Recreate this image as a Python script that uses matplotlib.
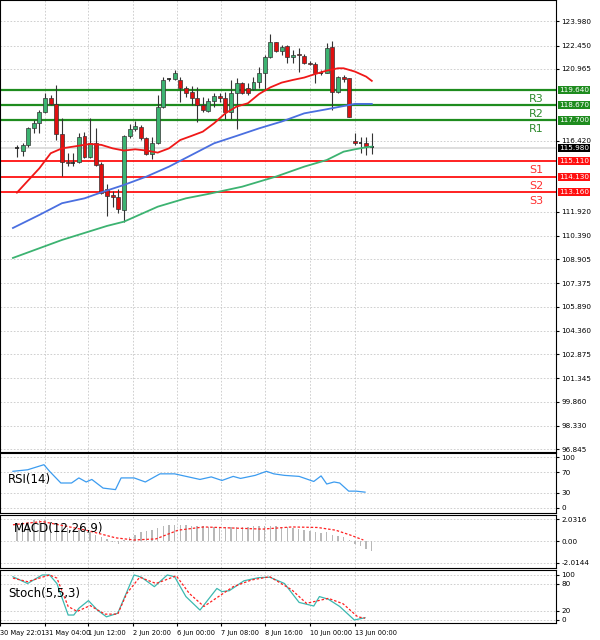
import matplotlib
matplotlib.use("Agg")
import matplotlib.pyplot as plt
import matplotlib.transforms as mtrans

# candles (index 0..63)
opens  = [115.93,115.79,116.15,117.20,117.56,118.26,119.11,118.75,116.84,115.09,115.03,115.09,116.72,115.41,116.25,114.94,
          113.33,112.97,112.83,112.02,116.72,117.14,117.31,116.57,115.58,116.25,118.54,120.31,120.31,120.27,119.74,119.53,
          119.11,118.68,118.32,118.96,119.25,119.11,118.26,119.42,120.10,119.74,119.68,120.16,120.69,121.75,122.70,122.13,
          122.43,121.71,121.92,121.79,121.37,121.28,120.73,120.73,122.34,119.53,120.44,120.37,116.42,116.30,116.30,116.04]
closes = [115.93,116.15,117.20,117.56,118.26,119.11,118.75,116.84,115.09,114.98,115.03,116.67,115.41,116.25,114.88,113.08,
          112.91,112.83,112.06,116.72,117.14,117.35,116.57,115.58,116.25,118.54,120.27,120.31,120.69,119.74,119.47,119.11,
          118.68,118.37,118.96,119.25,119.11,118.26,119.42,120.10,119.42,119.42,120.16,120.69,121.75,122.70,122.13,122.38,
          121.71,121.85,121.85,121.37,121.28,120.73,120.73,122.28,119.53,120.48,120.31,117.94,116.30,116.30,116.08,116.04]
highs  = [116.15,116.25,117.31,117.73,118.37,119.42,119.32,119.95,117.84,115.62,115.62,116.89,116.99,117.84,117.20,115.09,
          113.67,113.25,113.33,116.78,117.48,117.69,117.41,116.67,116.67,119.32,120.48,120.37,120.90,120.48,119.89,119.89,
          119.85,119.21,119.11,119.42,119.47,119.53,120.27,120.37,120.16,120.06,120.48,121.11,121.85,123.19,122.70,122.49,
          122.49,122.17,122.28,121.92,121.49,121.43,120.90,122.59,122.76,120.52,120.59,120.42,116.89,116.67,116.63,116.93]
lows   = [115.41,115.45,116.04,116.93,116.89,118.15,118.68,116.46,114.18,114.81,114.81,114.98,115.30,115.30,114.81,113.04,
          111.64,112.19,111.85,111.28,116.57,117.06,116.46,115.51,115.24,116.21,118.47,120.23,120.27,118.89,119.21,118.68,
          117.63,118.26,118.26,118.58,118.89,117.77,117.77,117.14,119.38,119.32,119.63,119.74,119.63,121.64,122.07,121.85,
          121.33,121.33,120.80,121.28,121.22,120.06,120.59,120.69,118.37,119.42,120.16,117.90,116.15,115.62,115.51,115.58]

ma_red_x = [0,4,6,8,10,13,15,17,19,21,23,25,27,29,31,33,35,37,39,41,43,45,47,49,51,53,55,57,58,60,62,63]
ma_red_y = [113.12,114.67,115.62,115.93,116.04,116.21,116.15,115.93,115.79,115.87,115.79,115.66,115.93,116.46,116.72,116.99,
            117.52,118.15,118.58,118.79,119.38,119.80,120.10,120.27,120.42,120.65,120.86,121.01,121.01,120.80,120.48,120.21]
ma_blue_x = [-0.7,4,8,12,15,19,23,27,31,35,39,43,47,51,55,60,63]
ma_blue_y = [110.88,111.71,112.45,112.76,113.14,113.61,114.14,114.77,115.51,116.25,116.72,117.20,117.63,118.15,118.41,118.75,118.75]
ma_green_x = [-0.7,8,16,19,25,30,34,40,46,51,55,58,60,62,63]
ma_green_y = [108.98,110.12,111.01,111.28,112.23,112.76,113.04,113.50,114.14,114.77,115.19,115.72,115.87,116.00,116.04]

res_levels = [119.64, 118.67, 117.70]
res_names = ["R3", "R2", "R1"]
sup_levels = [115.11, 114.13, 113.16]
sup_names = ["S1", "S2", "S3"]
last_price = 115.98

price_ticks = [123.980,122.450,120.965,116.420,111.920,110.390,108.905,
               107.375,105.890,104.360,102.875,101.345,99.860,98.330,96.845]

rsi_x = [-0.7,1.9,4.8,5.8,7.8,9.7,11.0,12.3,13.3,15.3,17.5,18.5,20.8,22.8,25.4,28.0,32.5,34.5,36.4,38.4,39.7,
         42.3,44.3,45.6,47.5,50.1,52.7,54.0,55.0,56.3,57.3,58.9,60.2,61.8]
rsi_y = [72,75,85,72,49,49,59,51,56,39,36,59,59,51,67,67,56,61,54,62,58,64,72,67,64,62,52,63,47,51,49,33,33,31]

macd_hist = [1.7,1.8,1.8,1.9,1.9,1.9,1.8,1.6,1.4,1.2,1.1,1.0,0.9,0.8,0.6,0.4,0.2,-0.1,-0.3,0.1,0.4,0.6,0.8,0.9,1.0,
             1.2,1.4,1.5,1.5,1.5,1.5,1.4,1.4,1.4,1.3,1.3,1.3,1.3,1.3,1.3,1.3,1.3,1.4,1.4,1.4,1.4,1.4,1.3,1.3,
             1.2,1.1,1.0,0.9,0.8,0.7,0.8,0.6,0.5,0.4,0.1,-0.3,-0.5,-0.7,-0.9]
macd_sig_x = [-0.7,4.5,12.3,17.5,20.8,24.7,28.6,33.2,38.4,43.6,48.8,53.4,56.6,59.2,61.5]
macd_sig_y = [1.5,1.8,1.0,0.3,0.1,0.2,1.0,1.3,1.2,1.1,1.3,1.25,1.0,0.55,0.1]

stoch_x = [-0.7,1.9,4.5,5.8,7.1,9.1,10.1,11.0,12.7,14.3,15.9,17.9,20.8,22.1,24.4,26.7,28.0,30.0,32.5,35.5,36.4,
           37.7,40.3,42.9,44.9,47.5,50.1,52.7,53.7,55.3,57.3,59.9,61.8]
stoch_k = [96,81,100,100,81,11,11,26,43,22,7,15,100,95,74,100,96,52,22,70,63,65,87,94,95,81,39,31,52,46,30,0,5]
stoch_sx = [-0.7,1.9,5.8,7.1,9.1,10.7,13.0,15.6,17.9,19.5,21.8,24.7,28.3,30.6,33.2,35.8,38.4,41.7,44.9,48.8,51.4,
            55.3,57.9,60.5,61.8]
stoch_d = [93,85,100,93,30,19,32,13,13,59,95,81,98,59,30,52,74,89,96,67,37,48,36,7,4]

time_pos = [-3, 5, 12.7, 20.6, 28.4, 36.2, 44, 52, 60]
time_labels = ["30 May 22:01", "31 May 04:00", "1 Jun 12:00", "2 Jun 20:00", "6 Jun 00:00",
               "7 Jun 08:00", "8 Jun 16:00", "10 Jun 00:00", "13 Jun 00:00"]

XMIN, XMAX = -0.7, 95.7
fig = plt.figure(figsize=(6, 6.4), dpi=100)
W = 556 / 600

def setup(ax, ylim):
    ax.set_xlim(XMIN, XMAX)
    ax.set_ylim(*ylim)
    ax.yaxis.tick_right()
    ax.tick_params(axis="y", labelsize=5.2, length=2, pad=2)
    ax.tick_params(axis="x", length=0, labelbottom=False)
    ax.set_xticks(time_pos)
    for s in ax.spines.values():
        s.set_linewidth(0.8)
    ax.grid(True, color="#c8c8c8", ls=(0, (2, 2)), lw=0.6)
    ax.set_axisbelow(True)

ax = fig.add_axes([0, 1 - 452 / 640, W, 452 / 640])
setup(ax, (96.67, 125.34))
ax.set_yticks(price_ticks)
ax.set_yticklabels(["%.3f" % t for t in price_ticks])

ax.axhline(last_price, color="#d8d8d8", lw=1.2)
for i in range(len(opens)):
    o, c = opens[i], closes[i]
    col = "#3cb371" if c > o else ("#e01010" if c < o else "#333333")
    ax.vlines(i, lows[i], highs[i], color="#333333", lw=0.8, zorder=3)
    if c == o:
        ax.hlines(o, i - 0.35, i + 0.35, color="#222222", lw=1.2, zorder=4)
    else:
        ax.bar(i, abs(c - o), 0.7, bottom=min(o, c), color=col, edgecolor="#333333", lw=0.5, zorder=4)

ax.plot(ma_green_x, ma_green_y, color="#3cb371", lw=1.3, zorder=5)
ax.plot(ma_blue_x, ma_blue_y, color="#4a6fe0", lw=1.3, zorder=5)
ax.plot(ma_red_x, ma_red_y, color="#f01818", lw=1.3, zorder=5)

tr = mtrans.blended_transform_factory(ax.transAxes, ax.transData)
for lv, nm in zip(res_levels, res_names):
    ax.axhline(lv, color="#1e8c1e", lw=1.6, zorder=2)
    ax.text(0.965, lv - 0.25, nm, transform=tr, color="#2e8b2e", fontsize=8, ha="center", va="top")
    ax.text(1.005, lv, "%.3f" % lv, transform=tr, color="white", fontsize=5.2, va="center",
            bbox=dict(boxstyle="square,pad=0.15", fc="#1e8c1e", ec="none"), clip_on=False)
for lv, nm in zip(sup_levels, sup_names):
    ax.axhline(lv, color="#ff1010", lw=1.3, zorder=2)
    ax.text(0.965, lv - 0.25, nm, transform=tr, color="#ff3030", fontsize=8, ha="center", va="top")
    ax.text(1.005, lv, "%.3f" % lv, transform=tr, color="white", fontsize=5.2, va="center",
            bbox=dict(boxstyle="square,pad=0.15", fc="#ff1010", ec="none"), clip_on=False)
ax.text(1.005, last_price - 0.05, "%.3f" % last_price, transform=tr, color="white", fontsize=5.2, va="center",
        bbox=dict(boxstyle="square,pad=0.15", fc="black", ec="none"), clip_on=False)

# RSI
ax_r = fig.add_axes([0, 1 - 513 / 640, W, 60 / 640])
setup(ax_r, (-10, 108))
ax_r.set_yticks([0, 30, 70, 100])
ax_r.plot(rsi_x, rsi_y, color="#3c9cf0", lw=0.9)
ax_r.text(0.015, 0.55, "RSI(14)", transform=ax_r.transAxes, fontsize=8.5, va="center")

# MACD
ax_m = fig.add_axes([0, 1 - 568 / 640, W, 53 / 640])
setup(ax_m, (-2.48, 2.4))
ax_m.set_yticks([-2.0144, 0, 2.0316])
ax_m.set_yticklabels(["-2.0144", "0.00", "2.0316"])
ax_m.bar(range(len(macd_hist)), macd_hist, 0.25, color="#b8b8b8")
ax_m.plot(macd_sig_x, macd_sig_y, color="#ff2020", lw=0.9, ls=(0, (2, 1.5)))
ax_m.text(0.025, 0.75, "MACD(12,26,9)", transform=ax_m.transAxes, fontsize=8.5, va="center")

# Stochastic
ax_s = fig.add_axes([0, 1 - 623 / 640, W, 53 / 640])
setup(ax_s, (-6.7, 111))
ax_s.set_yticks([0, 20, 80, 100])
ax_s.plot(stoch_x, stoch_k, color="#3cb8b0", lw=0.9)
ax_s.plot(stoch_sx, stoch_d, color="#ff2020", lw=0.9, ls=(0, (2, 1.5)))
ax_s.text(0.015, 0.55, "Stoch(5,5,3)", transform=ax_s.transAxes, fontsize=8.5, va="center")
ax_s.tick_params(axis="x", labelbottom=True, labelsize=4.8, pad=3, length=2)
ax_s.set_xticklabels(time_labels, ha="left")

fig.savefig("out.png", dpi=100)
